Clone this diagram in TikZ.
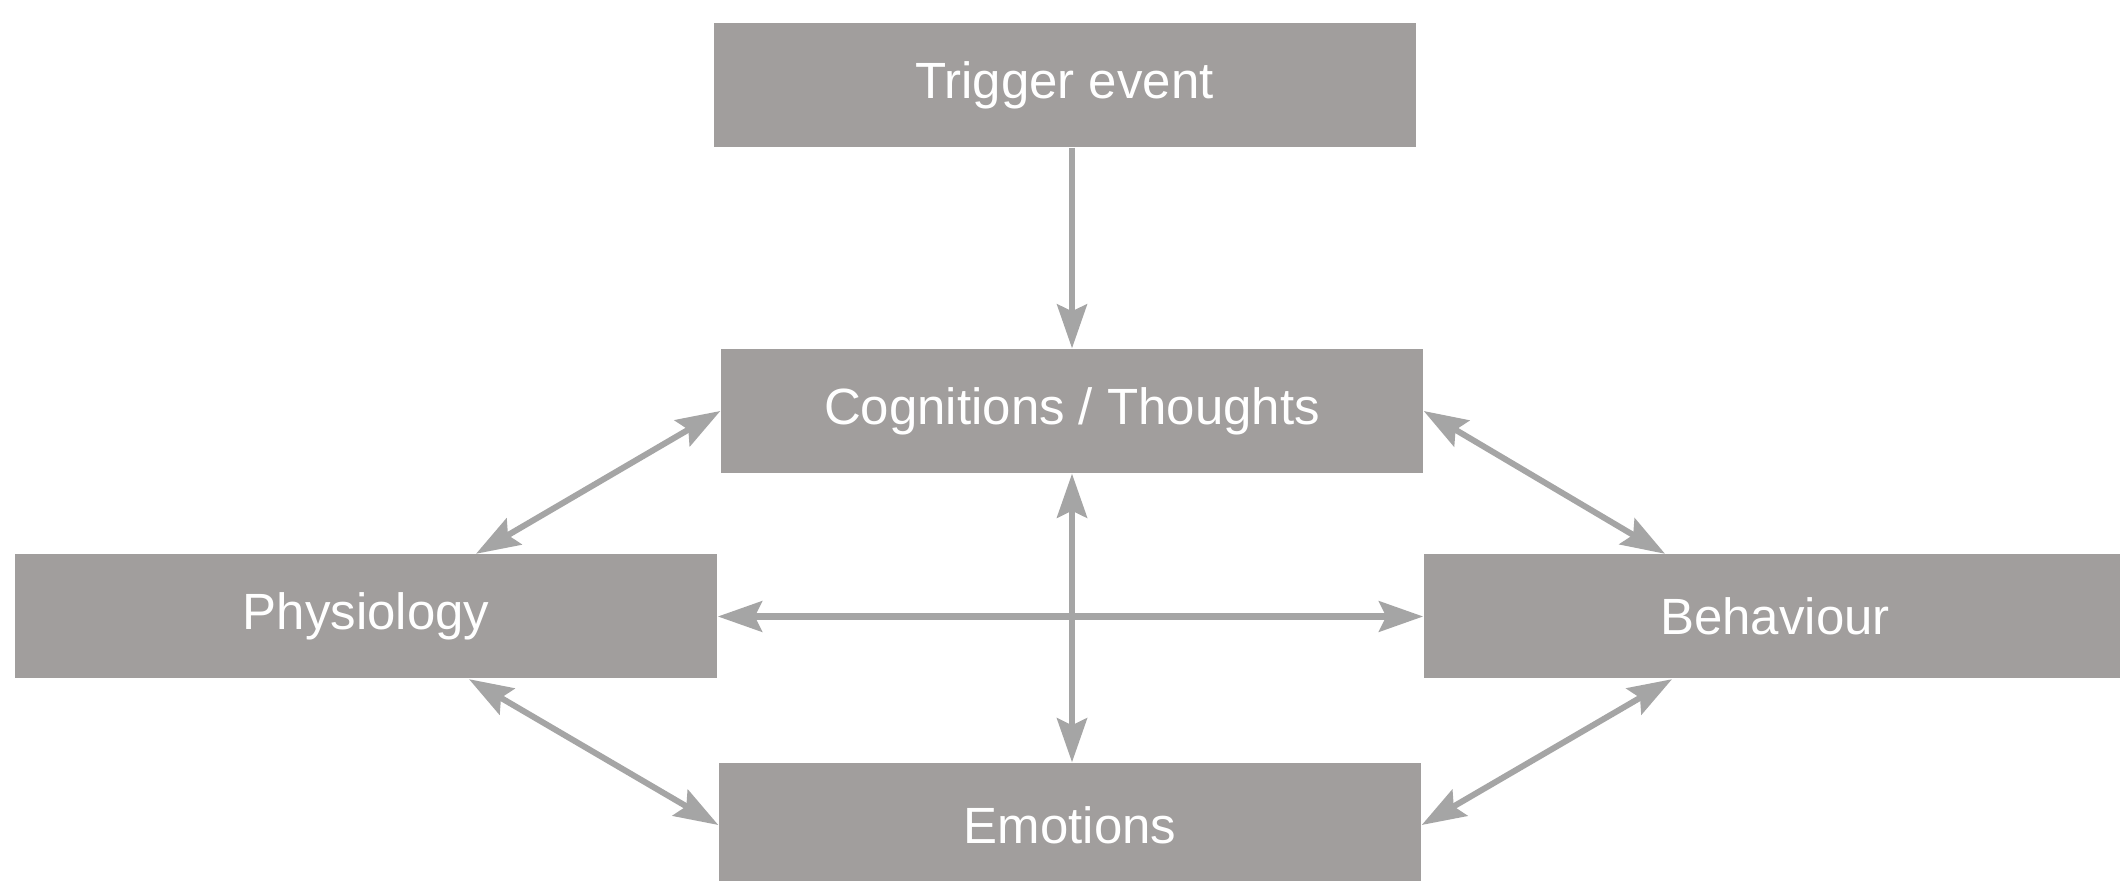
\documentclass[tikz,border=0pt]{standalone}
\usepackage{fontspec}
\setmainfont{Liberation Sans}
\usetikzlibrary{positioning,arrows.meta}

\definecolor{boxgray}{RGB}{161,158,157}
\definecolor{arrowgray}{RGB}{165,165,165}

\begin{document}
\begin{tikzpicture}[
    box/.style={fill=boxgray, text=white, minimum width=7.02cm, minimum height=1.24cm,
                inner sep=0pt, font=\fontsize{14.5}{17}\selectfont},
    link/.style={draw=arrowgray, line width=1.7pt,
                 {Stealth[length=0.44cm, width=0.3cm, inset=0.07cm]}-{Stealth[length=0.44cm, width=0.3cm, inset=0.07cm]}},
    onelink/.style={draw=arrowgray, line width=1.5pt,
                 -{Stealth[length=0.44cm, width=0.3cm, inset=0.07cm]}},
  ]
  \useasboundingbox[fill=white] (0,0) rectangle (21.2,8.81);
  \node [box] (trig) at (10.645,7.96) {Trigger event};
  \node [box] (cog)  at (10.72,4.70)  {Cognitions / Thoughts};
  \node [box] (phys) at (3.66,2.645)  {Physiology};
  \node [box] (beh)  at (17.75,2.645) {Behaviour};
  \node [box] (emo)  at (10.70,0.56)  {Emotions};

  \draw [onelink] (trig.south -| cog) -- (cog.north);
  \draw [link] (cog.south) -- (cog.south |- emo.north);
  \draw [link, line width=2.2pt] (phys.east) -- (beh.west);
  \draw [link] ([xshift=1.1cm]phys.north) -- (cog.west);
  \draw [link] (cog.east) -- ([xshift=-1.1cm]beh.north);
  \draw [link] ([xshift=1.03cm]phys.south) -- (emo.west);
  \draw [link] ([xshift=-1.03cm]beh.south) -- (emo.east);
\end{tikzpicture}
\end{document}
